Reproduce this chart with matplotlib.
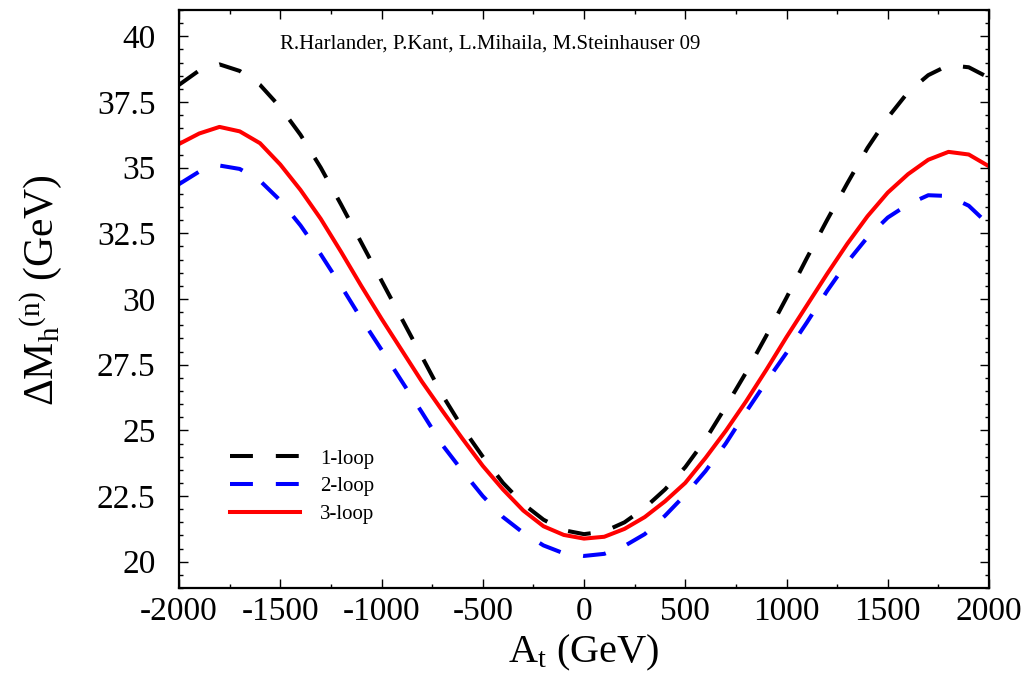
import matplotlib
matplotlib.use("Agg")
import matplotlib.pyplot as plt
from matplotlib.ticker import MultipleLocator, FormatStrFormatter

plt.rcParams['font.family'] = ['Liberation Serif', 'DejaVu Serif']
plt.rcParams['mathtext.fontset'] = 'custom'
plt.rcParams['mathtext.rm'] = 'Liberation Serif'
plt.rcParams['mathtext.it'] = 'Liberation Serif:italic'
plt.rcParams['axes.unicode_minus'] = False

At = [-2000, -1900, -1800, -1700, -1600, -1500, -1400, -1300, -1200, -1100,
      -1000, -900, -800, -700, -600, -500, -400, -300, -200, -100,
      0, 100, 200, 300, 400, 500, 600, 700, 800, 900,
      1000, 1100, 1200, 1300, 1400, 1500, 1600, 1700, 1800, 1900, 2000]

loop1 = [38.15, 38.70, 38.93, 38.68, 38.15, 37.30, 36.25, 35.00, 33.60, 32.15,
         30.70, 29.25, 27.80, 26.35, 25.10, 24.00, 23.00, 22.20, 21.60, 21.20,
         21.05, 21.15, 21.50, 22.05, 22.75, 23.60, 24.65, 25.90, 27.20, 28.60,
         30.05, 31.55, 33.00, 34.40, 35.75, 36.90, 37.87, 38.52, 38.90, 38.82, 38.42]

loop2 = [34.37, 34.85, 35.08, 34.95, 34.50, 33.75, 32.80, 31.70, 30.50, 29.25,
         28.07, 26.87, 25.68, 24.45, 23.45, 22.50, 21.70, 21.10, 20.62, 20.32,
         20.22, 20.30, 20.60, 21.05, 21.75, 22.55, 23.45, 24.50, 25.70, 26.85,
         27.95, 29.10, 30.30, 31.40, 32.35, 33.10, 33.60, 33.95, 33.92, 33.55, 32.82]

loop3 = [35.90, 36.30, 36.55, 36.38, 35.93, 35.12, 34.15, 33.05, 31.80, 30.50,
         29.25, 28.05, 26.85, 25.75, 24.68, 23.65, 22.75, 21.95, 21.35, 21.02,
         20.88, 20.95, 21.25, 21.70, 22.30, 23.00, 23.95, 24.98, 26.10, 27.30,
         28.55, 29.75, 30.95, 32.10, 33.15, 34.05, 34.75, 35.30, 35.60, 35.50, 35.05]

labels = ['1-loop', '2-loop', '3-loop']
colors = ['black', 'blue', 'red']

fig = plt.figure(figsize=(10.28, 6.85), dpi=100)
ax = fig.add_axes([179/1028, 1-588/685, 810/1028, 578/685])

lw = 2.9
d = 16.5 / lw
common = dict(lw=lw, solid_joinstyle='round', dash_joinstyle='round')
ax.plot(At, loop1, color=colors[0], linestyle=(0, (d, d)), label=labels[0], **common)
ax.plot(At, loop2, color=colors[1], linestyle=(0, (d, d)), label=labels[1], **common)
ax.plot(At, loop3, color=colors[2], linestyle='-', label=labels[2], **common)

ax.set_xlim(-2000, 2000)
ax.set_ylim(19, 41)
ax.xaxis.set_major_locator(MultipleLocator(500))
ax.xaxis.set_minor_locator(MultipleLocator(250))
ax.yaxis.set_major_locator(MultipleLocator(2.5))
ax.yaxis.set_minor_locator(MultipleLocator(0.5))
ax.yaxis.set_major_formatter(FormatStrFormatter('%g'))
ax.xaxis.set_major_formatter(FormatStrFormatter('%d'))

ax.tick_params(which='both', direction='in', top=True, right=True, width=1.0)
ax.tick_params(which='major', length=6.5)
ax.tick_params(which='minor', length=3.2)
ax.tick_params(axis='x', which='major', labelsize=24, pad=6)
ax.tick_params(axis='y', which='major', labelsize=24, pad=17)
for s in ax.spines.values():
    s.set_linewidth(1.6)

ax.set_xlabel(r'$\mathrm{A}_\mathrm{t}$ (GeV)', fontsize=29, labelpad=4)
ax.set_ylabel(r'$\Delta\mathrm{M}_\mathrm{h}{}^{(\mathrm{n})}$ (GeV)', fontsize=30)
ax.yaxis.set_label_coords(-0.142, 0.515)

ax.text(0.1247, 0.941, 'R.Harlander, P.Kant, L.Mihaila, M.Steinhauser 09',
        transform=ax.transAxes, fontsize=15, ha='left', va='center')

leg = ax.legend(loc='upper left', bbox_to_anchor=(0.063, 0.2405), frameon=False,
                fontsize=15, handlelength=3.36, handletextpad=0.96,
                labelspacing=0.4, borderpad=0, borderaxespad=0)

fig.savefig('out.png', dpi=100)
